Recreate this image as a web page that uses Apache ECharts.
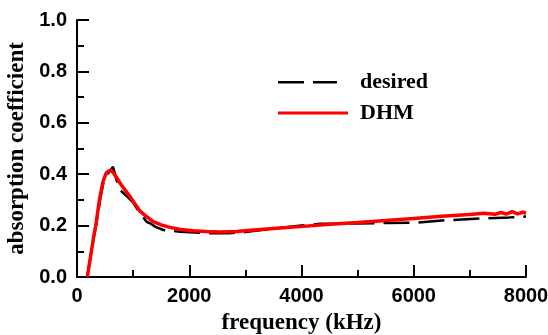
<!DOCTYPE html>
<html><head><meta charset="utf-8">
<script src="https://cdn.jsdelivr.net/npm/echarts@6/dist/echarts.min.js"></script>
<style>html,body{margin:0;padding:0;background:#fff}#c{width:548px;height:335px}</style>
</head><body><div id="c"></div>
<script>
const dhmFreq = [184,255,300,344,404,463,522,582,620,670,790,968,1123,1206,1360,1500,1658,1850,2073,2300,2549,2846,3084,3500,3975,4500,5000,5500,5995,6500,7000,7243,7450,7550,7650,7750,7850,7950,8000];
const dhmVal  = [0,0.098,0.16,0.215,0.306,0.371,0.405,0.415,0.413,0.399,0.358,0.306,0.256,0.241,0.215,0.203,0.193,0.185,0.180,0.177,0.175,0.177,0.182,0.189,0.196,0.205,0.212,0.220,0.228,0.236,0.243,0.248,0.244,0.251,0.245,0.254,0.246,0.252,0.248];
const desFreq = [184,255,300,344,404,463,522,580,642,700,760,909,1000,1100,1241,1301,1400,1539,1836,2100,2430,2700,3000,3500,4000,4330,5000,5500,6000,6500,7243,7700,8000];
const desVal  = [0,0.098,0.155,0.205,0.29,0.36,0.395,0.41,0.429,0.38,0.34,0.31,0.29,0.255,0.215,0.209,0.195,0.183,0.176,0.173,0.170,0.170,0.175,0.188,0.200,0.207,0.208,0.210,0.211,0.220,0.228,0.232,0.235];
const yTicks = [0,0.2,0.4,0.6,0.8,1.0];
const xTicks = [0,2000,4000,6000,8000];

const serif = 'Liberation Serif';
const sans = 'Liberation Sans';
// legend icons: tiny corner points fix the bounding box so the drawn part keeps its true length
const box = ' M0,0L0.01,0L0,0.01Z M70,14L69.99,14L70,13.99Z';
const dashIcon = 'path://M0,6L26,6L26,8.5L0,8.5Z M35,6L59,6L59,8.5L35,8.5Z' + box;
const solidIcon = 'path://M0,5.5L70,5.5L70,8.5L0,8.5Z' + box;

const chart = echarts.init(document.getElementById('c'));
chart.setOption({
  animation:false,
  grid:{left:77,right:22,top:20,bottom:58,outerBoundsMode:'none',containLabel:false},
  legend:{
    orient:'vertical', left:273, top:66, itemWidth:70, itemHeight:14, itemGap:9,
    textStyle:{fontFamily:serif,fontWeight:'bold',fontSize:22,color:'#000',padding:[0,0,0,7]},
    data:[{name:'desired',icon:dashIcon,itemStyle:{color:'#000'}},{name:'DHM',icon:solidIcon,itemStyle:{color:'#ff0000'}}]
  },
  xAxis:{type:'value',min:0,max:8000,interval:2000,
    name:'frequency (kHz)',nameLocation:'middle',nameGap:35,
    nameTextStyle:{fontFamily:serif,fontWeight:'bold',fontSize:23,color:'#000'},
    axisLine:{lineStyle:{color:'#000',width:2}},
    axisTick:{inside:true,length:12,lineStyle:{color:'#000',width:2}},
    minorTick:{show:true,splitNumber:2,length:7,lineStyle:{color:'#000',width:2}},
    splitLine:{show:false},
    axisLabel:{fontFamily:sans,fontWeight:'bold',fontSize:20,color:'#000',margin:9,formatter:v=>String(v)}
  },
  yAxis:{type:'value',min:0,max:1,interval:0.2,
    name:'absorption coefficient',nameLocation:'middle',nameGap:44,
    nameTextStyle:{fontFamily:serif,fontWeight:'bold',fontSize:23,color:'#000'},
    axisLine:{show:true,lineStyle:{color:'#000',width:2}},
    axisTick:{show:true,inside:true,length:12,lineStyle:{color:'#000',width:2}},
    minorTick:{show:true,splitNumber:2,length:7,lineStyle:{color:'#000',width:2}},
    splitLine:{show:false},
    axisLabel:{fontFamily:sans,fontWeight:'bold',fontSize:20,color:'#000',margin:10,formatter:v=>v.toFixed(1)}
  },
  series:[
    {name:'desired',type:'line',showSymbol:false,symbol:'none',
     data:desFreq.map((f,i)=>[f,desVal[i]]),
     lineStyle:{color:'#000',width:2.5,type:[26,9]},itemStyle:{color:'#000'},z:2},
    {name:'DHM',type:'line',showSymbol:false,symbol:'none',
     data:dhmFreq.map((f,i)=>[f,dhmVal[i]]),
     lineStyle:{color:'#ff0000',width:3.5},itemStyle:{color:'#ff0000'},z:3}
  ]
});
</script></body></html>
